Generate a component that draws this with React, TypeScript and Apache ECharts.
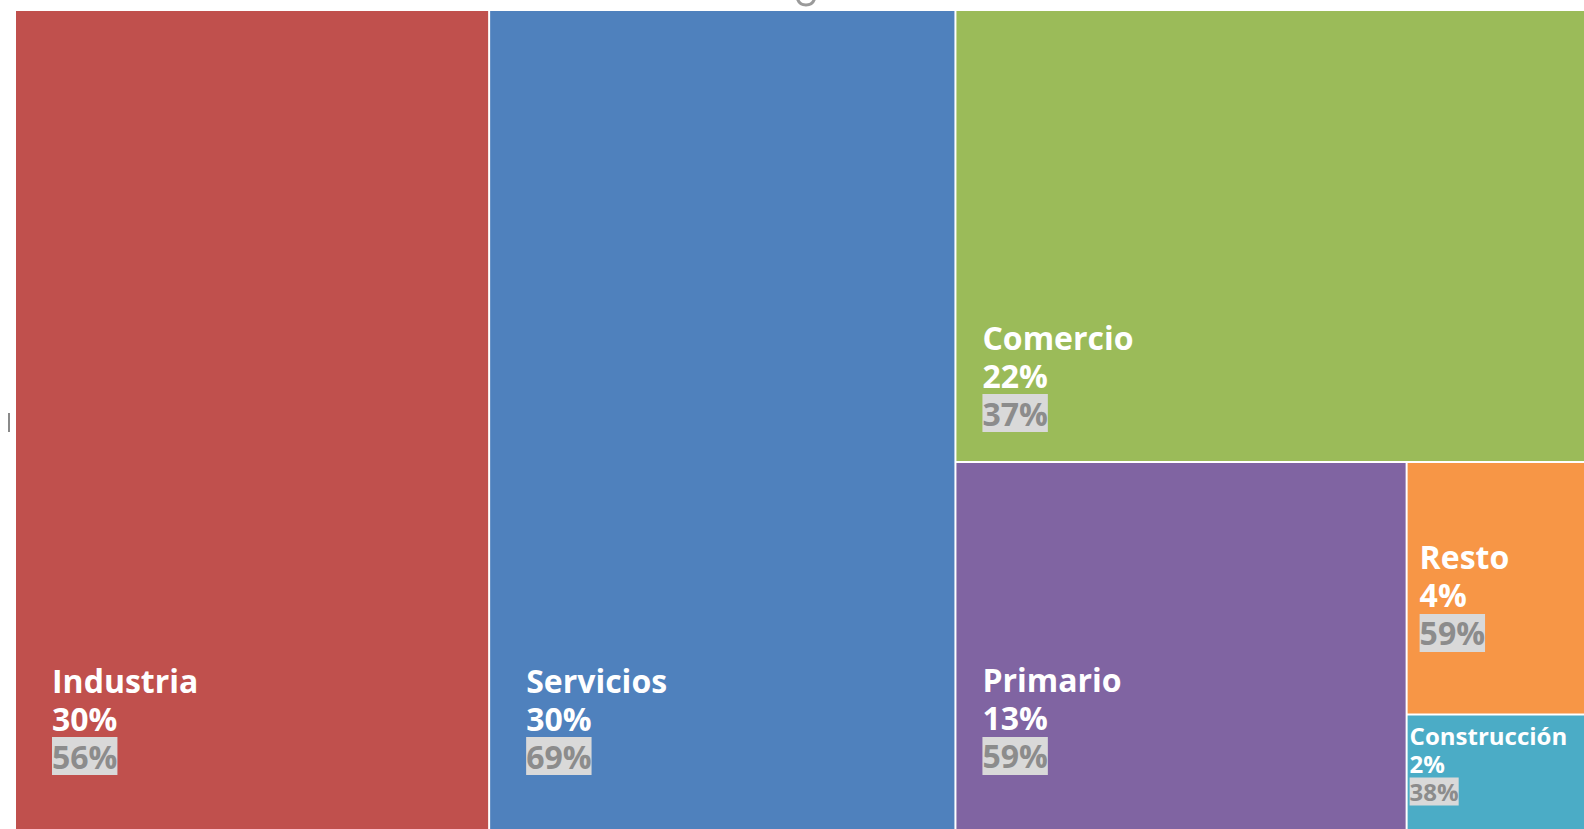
import React, { useEffect, useRef } from "react";
import * as echarts from "echarts";

const names = ["Industria", "Servicios", "Comercio", "Primario", "Resto", "Construcción"];
const values = [30.2, 29.7, 22.1, 12.9, 3.5, 1.6];
const secondary = ["56%", "69%", "37%", "59%", "59%", "38%"];
const colors = ["#C0504D", "#4F81BD", "#9BBB59", "#8064A2", "#F79646", "#4BACC6"];

// label placement (style): offset from each rectangle's top-left, and size class
const labelStyle: Record<string, { pos: [number, number]; small?: boolean }> = {
  Industria: { pos: [31, 645] },
  Servicios: { pos: [31, 645] },
  Comercio: { pos: [21, 302] },
  Primario: { pos: [21, 193] },
  Resto: { pos: [7, 70] },
  "Construcción": { pos: [-3, 1], small: true },
};

function richFor(small: boolean) {
  const fs = small ? 24 : 32;
  const lh = small ? 28 : 38;
  const base = { fontFamily: "Open Sans", fontWeight: 700 as const, fontSize: fs, lineHeight: lh };
  return {
    n: { ...base, color: "#ffffff" },
    p: { ...base, color: "#ffffff" },
    s: { ...base, color: "#8c8c8c", backgroundColor: "#d9d9d9", height: lh },
  };
}

export default function App() {
  const ref = useRef<HTMLDivElement>(null);
  useEffect(() => {
    if (!ref.current) return;
    const chart = echarts.init(ref.current, null, { renderer: "svg" });
    const data = names.map((name, i) => {
      const st = labelStyle[name];
      return {
        name,
        value: values[i],
        itemStyle: { color: colors[i] },
        label: {
          show: true,
          position: st.pos,
          overflow: "none",
          formatter: `{n|${name}}\n{p|${Math.round(values[i])}%}\n{s|${secondary[i]}}`,
          rich: richFor(!!st.small),
        },
      };
    });
    chart.setOption({
      animation: false,
      series: [
        {
          type: "treemap",
          left: 16,
          top: 11,
          width: 1568,
          height: 818,
          roam: false,
          nodeClick: false,
          squareRatio: 1,
          breadcrumb: { show: false },
          visibleMin: 0,
          itemStyle: { borderWidth: 0, gapWidth: 2, borderColor: "#ffffff" },
          levels: [{ itemStyle: { borderWidth: 0, gapWidth: 2, borderColor: "#ffffff" } }],
          label: { show: true, overflow: "none" },
          upperLabel: { show: false },
          emphasis: { disabled: true },
          data,
        },
      ],
      graphic: [
        {
          type: "arc",
          shape: { cx: 806, cy: -4, r: 9, startAngle: 0.3, endAngle: Math.PI - 0.3, clockwise: true },
          style: { stroke: "#9a9a9a", lineWidth: 3, fill: "none" },
          silent: true,
        },
        {
          type: "rect",
          shape: { x: 8, y: 413, width: 2, height: 19 },
          style: { fill: "#8a8a8a" },
          silent: true,
        },
      ],
    });
    return () => chart.dispose();
  }, []);
  return (
    <div
      ref={ref}
      style={{ position: "fixed", left: 0, top: 0, width: 1584, height: 829, background: "#ffffff" }}
    />
  );
}
